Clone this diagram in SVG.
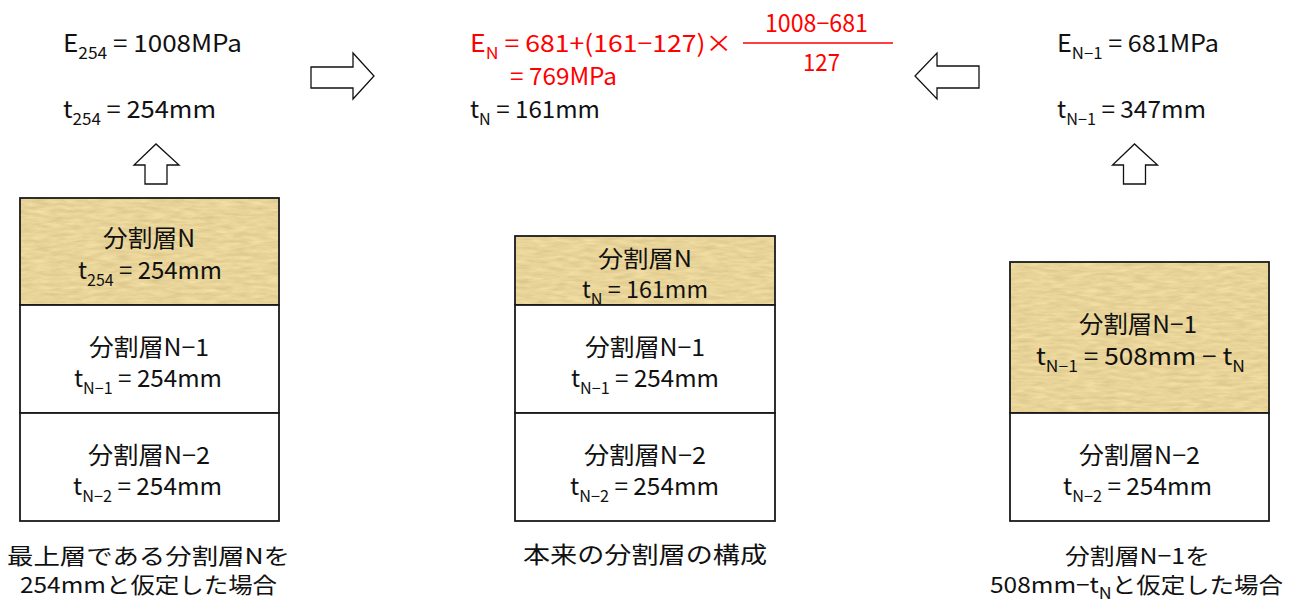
<svg xmlns="http://www.w3.org/2000/svg" width="1299" height="602" viewBox="0 0 1299 602">
<style>
text{font-family:"Noto Sans CJK JP","Noto Sans CJK SC",sans-serif;font-size:24px;fill:#111}
.red{fill:#ff0000}
.sub{font-size:16px}
.cap{font-size:23px}
.cap2{font-size:22px}
.box{fill:none;stroke:#1a1a1a;stroke-width:1.8}
.wbox{fill:#fff;stroke:#1a1a1a;stroke-width:1.8}
.arr{fill:#fff;stroke:#111;stroke-width:1.3;stroke-linejoin:miter}
</style>
<defs>
<filter id="tex" x="0" y="0" width="100%" height="100%" color-interpolation-filters="sRGB">
<feTurbulence type="fractalNoise" baseFrequency="0.06 0.3" numOctaves="3" seed="7" result="n"/>
<feColorMatrix in="n" type="matrix" values="0.14 0 0 0 0.84  0.14 0 0 0 0.76  0.14 0 0 0 0.53  0 0 0 0 1" result="c"/>
<feComposite in="c" in2="SourceGraphic" operator="in"/>
</filter>
</defs>
<rect width="1299" height="602" fill="#fff"/>

<g id="left-values">
<text x="63" y="52" textLength="179" lengthAdjust="spacingAndGlyphs">E<tspan class="sub" dy="7">254</tspan><tspan dy="-7"> = 1008MPa</tspan></text>
<text x="63" y="118" textLength="153" lengthAdjust="spacingAndGlyphs">t<tspan class="sub" dy="7">254</tspan><tspan dy="-7"> = 254mm</tspan></text>
</g>

<g id="center-values">
<text class="red" x="470" y="52" textLength="262" lengthAdjust="spacingAndGlyphs">E<tspan class="sub red" dy="7">N</tspan><tspan dy="-7"> = 681+(161−127)×</tspan></text>
<text class="red" x="765" y="32" textLength="103" lengthAdjust="spacingAndGlyphs">1008−681</text>
<line x1="743" y1="43" x2="893" y2="43" stroke="#ff0000" stroke-width="1.5"/>
<text class="red" x="803" y="71" textLength="37" lengthAdjust="spacingAndGlyphs">127</text>
<text class="red" x="510" y="85" textLength="107" lengthAdjust="spacingAndGlyphs">= 769MPa</text>
<text x="470" y="118" textLength="130" lengthAdjust="spacingAndGlyphs">t<tspan class="sub" dy="7">N</tspan><tspan dy="-7"> = 161mm</tspan></text>
</g>

<g id="right-values">
<text x="1057" y="52" textLength="162" lengthAdjust="spacingAndGlyphs">E<tspan class="sub" dy="7">N−1</tspan><tspan dy="-7"> = 681MPa</tspan></text>
<text x="1057" y="118" textLength="149" lengthAdjust="spacingAndGlyphs">t<tspan class="sub" dy="7">N−1</tspan><tspan dy="-7"> = 347mm</tspan></text>
</g>

<g id="connectors">
<polygon class="arr" points="311,67 353,67 353,53 374,76 353,99 353,88 311,88"/>
<polygon class="arr" points="979,66 937,66 937,53 915,76 937,99 937,88 979,88"/>
<polygon class="arr" points="145,184 145,165 134,165 156,144 179,165 167,165 167,184"/>
<polygon class="arr" points="1123.5,184 1123.5,165 1112.5,165 1134.5,144 1157.5,165 1145.5,165 1145.5,184"/>
</g>

<g id="left-layer-N">
<rect x="20" y="198" width="259" height="107" fill="#fff" filter="url(#tex)"/>
<rect class="box" x="20" y="198" width="259" height="107"/>
<text x="103" y="247" textLength="92" lengthAdjust="spacingAndGlyphs">分割層N</text>
<text x="78" y="279" textLength="144" lengthAdjust="spacingAndGlyphs">t<tspan class="sub" dy="7">254</tspan><tspan dy="-7"> = 254mm</tspan></text>
</g>
<g id="left-layer-N1">
<rect class="wbox" x="20" y="305" width="259" height="108"/>
<text x="89" y="356" textLength="120" lengthAdjust="spacingAndGlyphs">分割層N−1</text>
<text x="74" y="387" textLength="148" lengthAdjust="spacingAndGlyphs">t<tspan class="sub" dy="7">N−1</tspan><tspan dy="-7"> = 254mm</tspan></text>
</g>
<g id="left-layer-N2">
<rect class="wbox" x="20" y="413" width="259" height="108"/>
<text x="88" y="464" textLength="122" lengthAdjust="spacingAndGlyphs">分割層N−2</text>
<text x="73" y="495" textLength="149" lengthAdjust="spacingAndGlyphs">t<tspan class="sub" dy="7">N−2</tspan><tspan dy="-7"> = 254mm</tspan></text>
</g>

<g id="center-layer-N">
<rect x="515" y="236" width="260" height="69" fill="#fff" filter="url(#tex)"/>
<rect class="box" x="515" y="236" width="260" height="69"/>
<text class="cap" x="598" y="267" textLength="94" lengthAdjust="spacingAndGlyphs">分割層N</text>
<text class="cap" x="582" y="298" textLength="126" lengthAdjust="spacingAndGlyphs">t<tspan class="sub" dy="7">N</tspan><tspan dy="-7"> = 161mm</tspan></text>
</g>
<g id="center-layer-N1">
<rect class="wbox" x="515" y="305" width="260" height="108"/>
<text x="585" y="356" textLength="120" lengthAdjust="spacingAndGlyphs">分割層N−1</text>
<text x="571" y="387" textLength="148" lengthAdjust="spacingAndGlyphs">t<tspan class="sub" dy="7">N−1</tspan><tspan dy="-7"> = 254mm</tspan></text>
</g>
<g id="center-layer-N2">
<rect class="wbox" x="515" y="413" width="260" height="108"/>
<text x="584" y="464" textLength="122" lengthAdjust="spacingAndGlyphs">分割層N−2</text>
<text x="570" y="495" textLength="149" lengthAdjust="spacingAndGlyphs">t<tspan class="sub" dy="7">N−2</tspan><tspan dy="-7"> = 254mm</tspan></text>
</g>

<g id="right-layer-N1">
<rect x="1010" y="262" width="259" height="151" fill="#fff" filter="url(#tex)"/>
<rect class="box" x="1010" y="262" width="259" height="151"/>
<text x="1079" y="333" textLength="118" lengthAdjust="spacingAndGlyphs">分割層N−1</text>
<text x="1036" y="365" textLength="209" lengthAdjust="spacingAndGlyphs">t<tspan class="sub" dy="7">N−1</tspan><tspan dy="-7"> = 508mm − t</tspan><tspan class="sub" dy="7">N</tspan></text>
</g>
<g id="right-layer-N2">
<rect class="wbox" x="1010" y="413" width="259" height="108"/>
<text x="1079" y="464" textLength="121" lengthAdjust="spacingAndGlyphs">分割層N−2</text>
<text x="1063" y="495" textLength="149" lengthAdjust="spacingAndGlyphs">t<tspan class="sub" dy="7">N−2</tspan><tspan dy="-7"> = 254mm</tspan></text>
</g>

<g id="captions">
<text class="cap2" x="7" y="564" textLength="283" lengthAdjust="spacingAndGlyphs">最上層である分割層Nを</text>
<text class="cap2" x="20" y="593" textLength="257" lengthAdjust="spacingAndGlyphs">254mmと仮定した場合</text>
<text class="cap" x="523" y="563" textLength="244" lengthAdjust="spacingAndGlyphs">本来の分割層の構成</text>
<text class="cap2" x="1065" y="564" textLength="145" lengthAdjust="spacingAndGlyphs">分割層N−1を</text>
<text class="cap2" x="990" y="593" textLength="293" lengthAdjust="spacingAndGlyphs">508mm−t<tspan class="sub" dy="6">N</tspan><tspan dy="-6">と仮定した場合</tspan></text>
</g>
</svg>
